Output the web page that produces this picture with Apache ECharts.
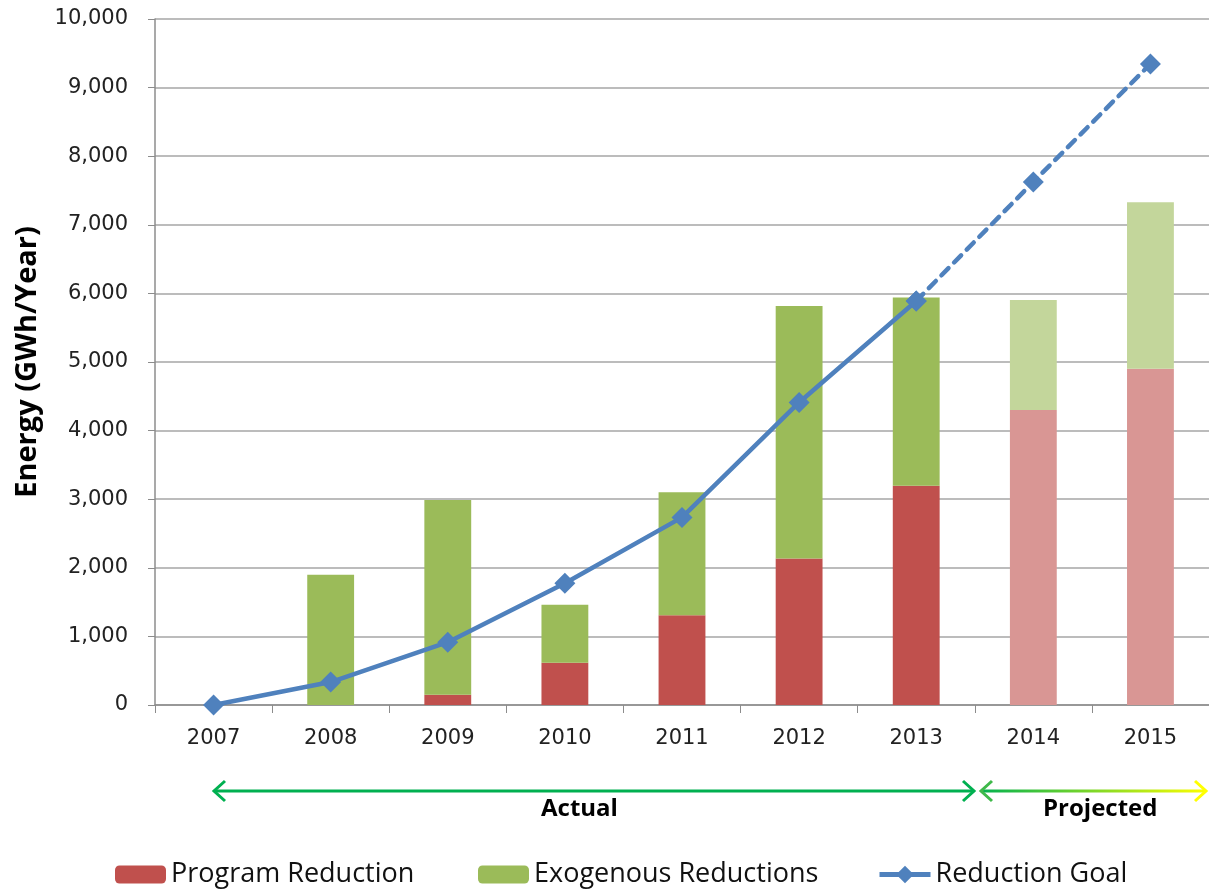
<!DOCTYPE html>
<html>
<head>
<meta charset="utf-8">
<script src="https://cdn.jsdelivr.net/npm/echarts@6/dist/echarts.min.js"></script>
<style>
  html, body { margin: 0; padding: 0; background: #fff; }
  #chart { width: 1209px; height: 889px; }
</style>
</head>
<body>
<div id="chart"></div>
<script>
// --- data ---
const years = ['2007', '2008', '2009', '2010', '2011', '2012', '2013', '2014', '2015'];
const programReduction = [0, 0, 150, 615, 1310, 2135, 3195, 4300, 4900];
const exogenousReductions = [0, 1900, 2840, 845, 1790, 3680, 2745, 1605, 2430];
const goalActual = [0, 335, 915, 1775, 2735, 4410, 5890, null, null];
const goalProjected = [null, null, null, null, null, null, 5890, 7625, 9345];
const projectedFrom = 7; // index of first projected year

const RED = '#C0504D', RED_LIGHT = '#D99694';
const GREEN = '#9BBB59', GREEN_LIGHT = '#C3D69B';
const BLUE = '#4F81BD';
const labelFont = 'DejaVu Sans';
const textFont = '"Open Sans", sans-serif';

const chart = echarts.init(document.getElementById('chart'));

// projected years use paler colours
const barData = (vals, dark, light) => vals.map((v, i) => ({
  value: v,
  itemStyle: { color: i >= projectedFrom ? light : dark }
}));

const legendText = { fontFamily: textFont, fontSize: 27, color: '#111' };
const legendBase = { top: 856, itemWidth: 51, itemHeight: 18, textStyle: legendText };

// small open chevron for the Actual / Projected arrows
const chevron = (x, y, dir, color) => ({
  type: 'polyline',
  shape: { points: [[x + dir * 11, y - 10], [x, y], [x + dir * 11, y + 10]] },
  style: { stroke: color, lineWidth: 3, fill: null }
});

const option = {
  animation: false,
  grid: { left: 155, top: 19, width: 1062, height: 686 },
  legend: [
    Object.assign({ left: 110, data: ['Program Reduction'] }, legendBase),
    Object.assign({ left: 473, data: ['Exogenous Reductions'] }, legendBase),
    Object.assign({}, legendBase, {
      left: 872, itemHeight: 22, data: ['Reduction Goal'],
      lineStyle: { width: 5 }
    })
  ],
  xAxis: {
    type: 'category',
    data: years,
    axisLine: { lineStyle: { color: '#8c8c8c', width: 1.5 } },
    axisTick: { show: true, length: 8, lineStyle: { color: '#8c8c8c' } },
    axisLabel: { fontFamily: labelFont, fontSize: 21, color: '#222', margin: 23 }
  },
  yAxis: {
    type: 'value',
    min: 0,
    max: 10000,
    interval: 1000,
    name: 'Energy (GWh/Year)',
    nameLocation: 'middle',
    nameRotate: 90,
    nameGap: 113,
    nameTextStyle: { fontFamily: textFont, fontSize: 29, fontWeight: 'bold', color: '#000' },
    axisLine: { show: true, lineStyle: { color: '#8c8c8c', width: 1.5 } },
    axisTick: { show: true, length: 7, lineStyle: { color: '#8c8c8c' } },
    axisLabel: {
      fontFamily: labelFont, fontSize: 21, color: '#222', margin: 27,
      formatter: v => v.toLocaleString('en-US')
    },
    splitLine: { lineStyle: { color: '#a6a6a6', width: 1.5 } }
  },
  series: [
    {
      name: 'Program Reduction',
      type: 'bar',
      stack: 'total',
      barWidth: '40%',
      itemStyle: { color: RED },
      data: barData(programReduction, RED, RED_LIGHT)
    },
    {
      name: 'Exogenous Reductions',
      type: 'bar',
      stack: 'total',
      barWidth: '40%',
      itemStyle: { color: GREEN },
      data: barData(exogenousReductions, GREEN, GREEN_LIGHT)
    },
    {
      name: 'Reduction Goal',
      type: 'line',
      symbol: 'diamond',
      symbolSize: 21,
      itemStyle: { color: BLUE },
      lineStyle: { color: BLUE, width: 4.5 },
      data: goalActual,
      z: 5
    },
    {
      name: 'Reduction Goal (projected)',
      type: 'line',
      symbol: 'diamond',
      symbolSize: 21,
      itemStyle: { color: BLUE },
      lineStyle: { color: BLUE, width: 4.5, type: [10, 8], cap: 'round' },
      data: goalProjected,
      z: 4
    }
  ],
  graphic: [
    // Actual span arrow
    { type: 'line', shape: { x1: 214, y1: 791, x2: 974, y2: 791 }, style: { stroke: '#00B050', lineWidth: 3 } },
    chevron(214, 791, 1, '#00B050'),
    chevron(974, 791, -1, '#00B050'),
    { type: 'text', left: 541, top: 797, style: { text: 'Actual', fontFamily: textFont, fontSize: 24, fontWeight: 'bold', fill: '#000' } },
    // Projected span arrow with green-to-yellow fade
    {
      type: 'line', shape: { x1: 981, y1: 791, x2: 1206, y2: 791 },
      style: {
        lineWidth: 3,
        stroke: { type: 'linear', x: 0, y: 0, x2: 1, y2: 0, global: false,
          colorStops: [{ offset: 0, color: '#00B050' }, { offset: 1, color: '#FFFF00' }] }
      }
    },
    chevron(981, 791, 1, '#3FB94A'),
    chevron(1206, 791, -1, '#FFFF00'),
    { type: 'text', left: 1043, top: 797, style: { text: 'Projected', fontFamily: textFont, fontSize: 24, fontWeight: 'bold', fill: '#000' } }
  ]
};

chart.setOption(option);
</script>
</body>
</html>
